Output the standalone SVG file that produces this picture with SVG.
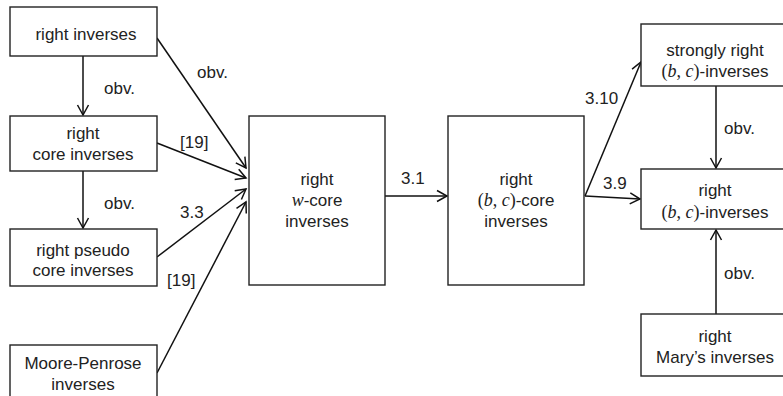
<svg xmlns="http://www.w3.org/2000/svg" width="783" height="396" viewBox="0 0 783 396">
<style>
.box{fill:#fff;stroke:#222;stroke-width:1.4}
.t{font-family:"Liberation Sans",Arial,sans-serif;font-size:17px;fill:#222;text-anchor:middle}
.l{font-family:"Liberation Sans",Arial,sans-serif;font-size:17px;fill:#222}
.m{font-family:"Liberation Serif","Times New Roman",serif;font-style:italic;font-size:18px}
.p{font-family:"Liberation Serif","Times New Roman",serif;font-size:18px}
.c{fill:none;stroke:#111;stroke-width:1.5}
</style>
<defs>
<marker id="ah" markerWidth="14" markerHeight="14" viewBox="-12 -7 14 14" refX="0" refY="0" orient="auto" markerUnits="userSpaceOnUse">
<path d="M-10,-5.5 L0,0 L-10,5.5" fill="none" stroke="#111" stroke-width="1.5"/>
</marker>
</defs>
<rect width="783" height="396" fill="#fff"/>
<g id="connectors">
<line class="c" x1="83" y1="56" x2="83" y2="115" marker-end="url(#ah)"/>
<line class="c" x1="83" y1="171" x2="83" y2="228" marker-end="url(#ah)"/>
<line class="c" x1="157" y1="38" x2="246" y2="168" marker-end="url(#ah)"/>
<line class="c" x1="157" y1="143" x2="246" y2="178" marker-end="url(#ah)"/>
<line class="c" x1="157" y1="257" x2="246" y2="189" marker-end="url(#ah)"/>
<line class="c" x1="157" y1="373" x2="246" y2="202" marker-end="url(#ah)"/>
<line class="c" x1="385" y1="196" x2="447" y2="196" marker-end="url(#ah)"/>
<line class="c" x1="585" y1="196" x2="641" y2="62" marker-end="url(#ah)"/>
<line class="c" x1="585" y1="196" x2="640" y2="199" marker-end="url(#ah)"/>
<line class="c" x1="716" y1="86" x2="716" y2="168" marker-end="url(#ah)"/>
<line class="c" x1="716" y1="314" x2="716" y2="230" marker-end="url(#ah)"/>
<text class="l" x="104" y="94">obv.</text>
<text class="l" x="104" y="209">obv.</text>
<text class="l" x="197" y="78">obv.</text>
<text class="l" x="180" y="148">[19]</text>
<text class="l" x="180" y="218">3.3</text>
<text class="l" x="167" y="286">[19]</text>
<text class="l" x="401" y="184">3.1</text>
<text class="l" x="585" y="104">3.10</text>
<text class="l" x="603" y="189">3.9</text>
<text class="l" x="724" y="134">obv.</text>
<text class="l" x="724" y="279">obv.</text>
</g>
<g id="n1">
<rect class="box" x="10" y="7" width="147" height="49"/>
<text class="t" x="86" y="40">right inverses</text>
</g>
<g id="n2">
<rect class="box" x="10" y="116" width="147" height="55"/>
<text class="t" x="83" y="139">right</text>
<text class="t" x="83" y="160">core inverses</text>
</g>
<g id="n3">
<rect class="box" x="10" y="229" width="147" height="57"/>
<text class="t" x="83" y="256">right pseudo</text>
<text class="t" x="83" y="276">core inverses</text>
</g>
<g id="n4">
<rect class="box" x="10" y="345" width="147" height="60"/>
<text class="t" x="83" y="369">Moore-Penrose</text>
<text class="t" x="83" y="390">inverses</text>
</g>
<g id="n5">
<rect class="box" x="249" y="116" width="136" height="169"/>
<text class="t" x="317" y="185">right</text>
<text class="t" x="317" y="206"><tspan class="m">w</tspan>-core</text>
<text class="t" x="317" y="227">inverses</text>
</g>
<g id="n6">
<rect class="box" x="448" y="116" width="136" height="169"/>
<text class="t" x="516" y="185">right</text>
<text class="t" x="516" y="206"><tspan class="p">(</tspan><tspan class="m">b</tspan><tspan class="p">, </tspan><tspan class="m">c</tspan><tspan class="p">)</tspan>-core</text>
<text class="t" x="516" y="227">inverses</text>
</g>
<g id="n7">
<rect class="box" x="641" y="24" width="150" height="62"/>
<text class="t" x="715" y="56">strongly right</text>
<text class="t" x="715" y="77"><tspan class="p">(</tspan><tspan class="m">b</tspan><tspan class="p">, </tspan><tspan class="m">c</tspan><tspan class="p">)</tspan>-inverses</text>
</g>
<g id="n8">
<rect class="box" x="641" y="169" width="150" height="60"/>
<text class="t" x="715" y="196">right</text>
<text class="t" x="715" y="218"><tspan class="p">(</tspan><tspan class="m">b</tspan><tspan class="p">, </tspan><tspan class="m">c</tspan><tspan class="p">)</tspan>-inverses</text>
</g>
<g id="n9">
<rect class="box" x="641" y="314" width="150" height="62"/>
<text class="t" x="715" y="342">right</text>
<text class="t" x="715" y="363">Mary’s inverses</text>
</g>
</svg>
